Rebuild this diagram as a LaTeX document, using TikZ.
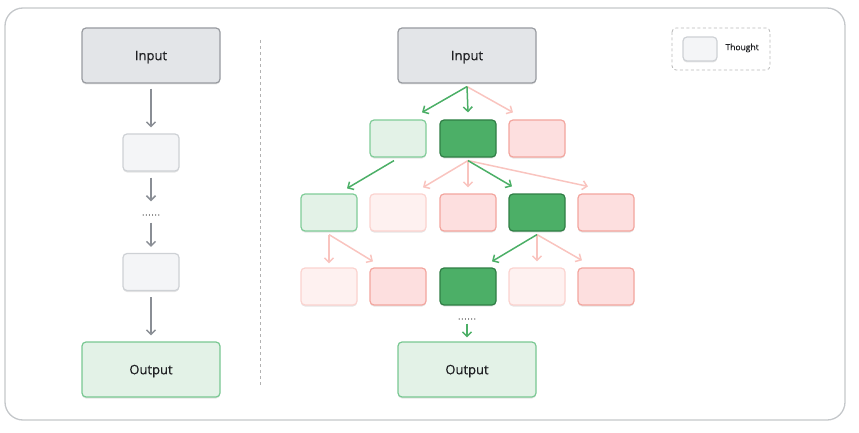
\documentclass[tikz,border=0pt]{standalone}
\usepackage{fontspec}
\setmainfont{Open Sans}[FakeBold=0.5]
\usetikzlibrary{arrows.meta,calc,shadows}
\definecolor{frameC}{HTML}{C4C7CA}
\definecolor{grayfill}{HTML}{E3E5E8}
\definecolor{graydraw}{HTML}{989BA0}
\definecolor{thfill}{HTML}{F4F5F7}
\definecolor{thdraw}{HTML}{CED1D5}
\definecolor{outfill}{HTML}{E3F2E7}
\definecolor{outdraw}{HTML}{79C892}
\definecolor{lgdraw}{HTML}{80CC98}
\definecolor{dgfill}{HTML}{4CAF67}
\definecolor{dgdraw}{HTML}{2F7E45}
\definecolor{lrfill}{HTML}{FDDFDF}
\definecolor{lrdraw}{HTML}{F3A59E}
\definecolor{vlrfill}{HTML}{FEF1F0}
\definecolor{vlrdraw}{HTML}{FBD3CF}
\definecolor{garrow}{HTML}{4CAF67}
\definecolor{parrow}{HTML}{F9C4BF}
\definecolor{grarrow}{HTML}{8A8E95}
\definecolor{txt}{HTML}{202124}
\begin{document}
\begin{tikzpicture}[x=1pt,y=-1pt,
  every node/.style={text=txt},
  box/.style={rounded corners=4pt, line width=1.2pt, inner sep=0pt,
     drop shadow={shadow xshift=0pt, shadow yshift=-1.5pt, opacity=0.10, fill=black}},
  bigbox/.style={box, minimum width=138pt, minimum height=55pt, text depth=0pt, font=\fontsize{13}{15}\selectfont},
  smallbox/.style={box, minimum width=56pt, minimum height=37pt},
  inbox/.style={bigbox, fill=grayfill, draw=graydraw},
  outbox/.style={bigbox, fill=outfill, draw=outdraw},
  thbox/.style={smallbox, fill=thfill, draw=thdraw},
  lgbox/.style={smallbox, fill=outfill, draw=lgdraw},
  dgbox/.style={smallbox, fill=dgfill, draw=dgdraw},
  lrbox/.style={smallbox, fill=lrfill, draw=lrdraw},
  vlrbox/.style={smallbox, fill=vlrfill, draw=vlrdraw},
  arr/.style={line width=1.5pt, -{Straight Barb[length=4.5pt,width=9pt,line width=1.5pt]}},
  grayarr/.style={arr, draw=grarrow},
  garr/.style={arr, draw=garrow},
  parr/.style={arr, draw=parrow},
  dotsnode/.style={inner sep=0pt, font=\fontsize{8}{9}\selectfont, text=black!65}
]
\useasboundingbox (0,0) rectangle (859,433);
% frame
\draw[frameC, line width=1.3pt, rounded corners=18pt] (5,8) rectangle (845,420);
% divider
\draw[draw=black!30, line width=0.8pt, dash pattern=on 3pt off 3pt] (260,40) -- (260,385);
% legend
\draw[draw=black!28, line width=0.8pt, dash pattern=on 3pt off 2.5pt, rounded corners=4pt] (672,28) rectangle (770,70);
\node[box, fill=thfill, draw=thdraw, minimum width=34pt, minimum height=24pt] (leg) at (700,49) {};
\node[anchor=west, font=\fontsize{8.5}{10}\selectfont] (legt) at (722,48) {Thought};

% left chain
\node[inbox] (inL) at (151,55.5) {Input};
\node[thbox] (th1) at (151,152.5) {};
\node[dotsnode] (dotL) at (151,215) {.\hspace{1pt}.\hspace{1pt}.\hspace{1pt}.\hspace{1pt}.\hspace{1pt}.};
\node[thbox] (th2) at (151,272) {};
\node[outbox] (outL) at (151,369.5) {Output};
\draw[grayarr, shorten <=5pt, shorten >=6pt] (inL.south) -- (th1.north);
\draw[grayarr, shorten <=6pt, shorten >=13pt] (th1.south) -- (th1.south |- dotL.north);
\draw[grayarr, shorten <=7pt, shorten >=6pt] (dotL.south) -- (th2.north);
\draw[grayarr, shorten <=6pt, shorten >=6pt] (th2.south) -- (outL.north);

% right tree
\node[inbox] (inR) at (467,55.5) {Input};
\node[lgbox] (b11) at (398,138.5) {};
\node[dgbox] (b12) at (468,138.5) {};
\node[lrbox] (b13) at (537,138.5) {};
\node[lgbox] (b21) at (329,212.5) {};
\node[vlrbox] (b22) at (398,212.5) {};
\node[lrbox] (b23) at (468,212.5) {};
\node[dgbox] (b24) at (537,212.5) {};
\node[lrbox] (b25) at (606,212.5) {};
\node[vlrbox] (b31) at (329,286.5) {};
\node[lrbox] (b32) at (398,286.5) {};
\node[dgbox] (b33) at (468,286.5) {};
\node[vlrbox] (b34) at (537,286.5) {};
\node[lrbox] (b35) at (606,286.5) {};
\node[dotsnode] (dotR) at (467,319) {.\hspace{1pt}.\hspace{1pt}.\hspace{1pt}.\hspace{1pt}.\hspace{1pt}.};
\node[outbox] (outR) at (467,369.5) {Output};

\draw[parr] ($(inR.south)+(0,3)$) -- ($(b13.north)+(-24,-7)$);
\draw[garr] ($(inR.south)+(0,3)$) -- ($(b11.north)+(24,-7)$);
\draw[garr] ($(inR.south)+(0,3)$) -- ($(b12.north)+(0,-7)$);

\draw[garr] ($(b11.south)+(-4,3)$) -- ($(b21.north)+(18,-5)$);

\draw[parr] ($(b12.south)+(0,3)$) -- ($(b22.north)+(25,-6)$);
\draw[parr] ($(b12.south)+(0,3)$) -- ($(b23.north)+(0,-6)$);
\draw[parr] ($(b12.south)+(0,3)$) -- ($(b25.north)+(-18,-7)$);
\draw[garr] ($(b12.south)+(0,3)$) -- ($(b24.north)+(-25,-7)$);

\draw[parr] ($(b21.south)+(0,3)$) -- ($(b31.north)+(0,-4)$);
\draw[parr] ($(b21.south)+(0,3)$) -- ($(b32.north)+(-25,-6)$);

\draw[parr] ($(b24.south)+(0,3)$) -- ($(b34.north)+(0,-6)$);
\draw[parr] ($(b24.south)+(0,3)$) -- ($(b35.north)+(-24,-7)$);
\draw[garr] ($(b24.south)+(0,3)$) -- ($(b33.north)+(24,-6)$);

\draw[garr] ($(dotR.south)+(0,4)$) -- ($(outR.north)+(0,-4)$);
\end{tikzpicture}
\end{document}
